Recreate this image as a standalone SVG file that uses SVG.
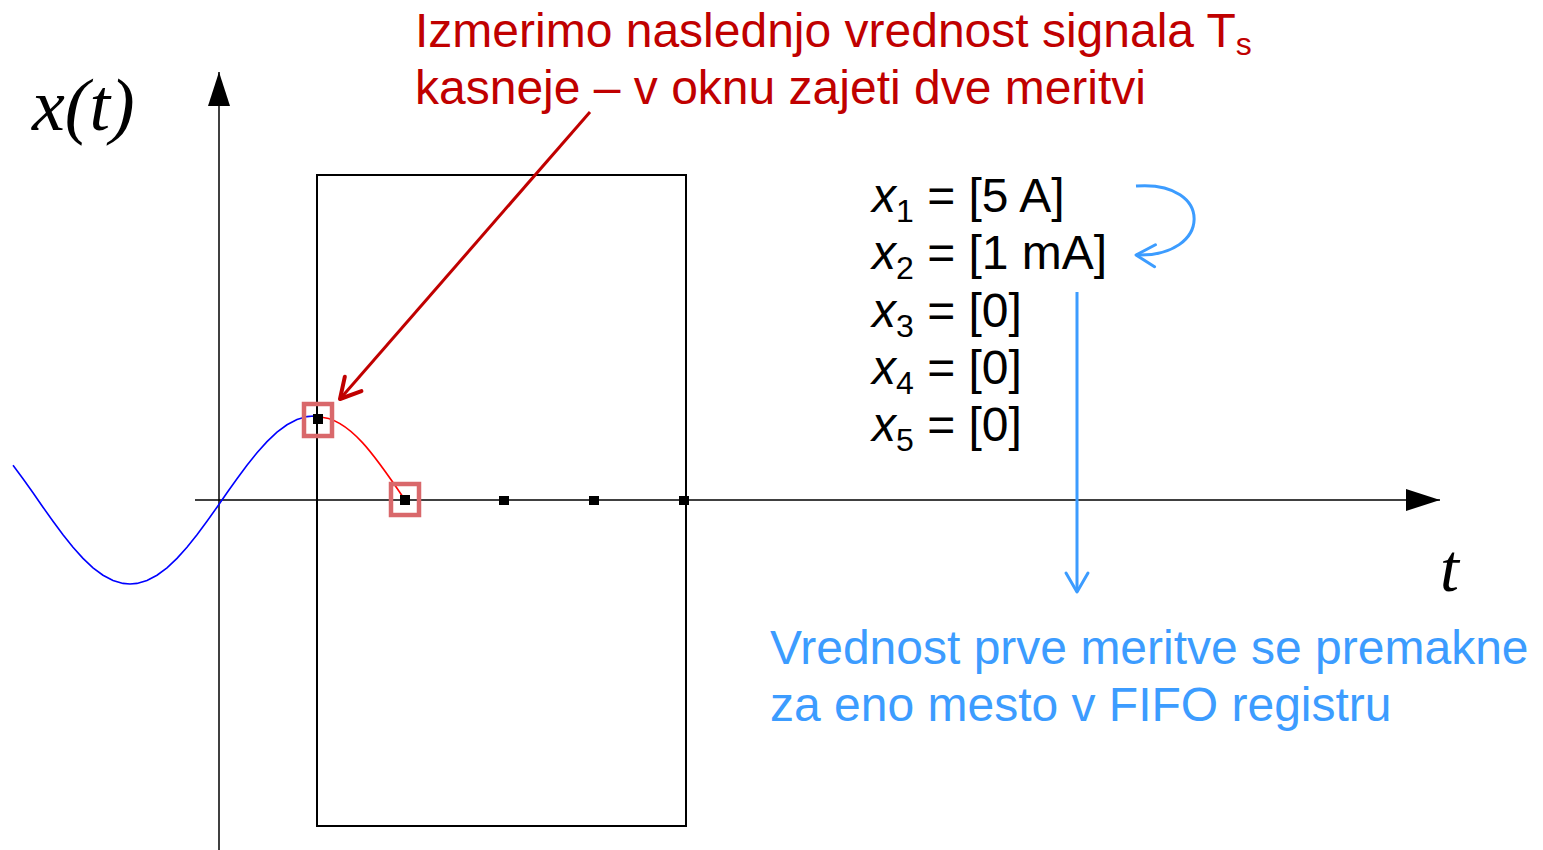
<svg xmlns="http://www.w3.org/2000/svg" width="1543" height="850" viewBox="0 0 1543 850">
<style>
.red{fill:#c00000;font-family:"Liberation Sans",Arial,sans-serif;font-size:48px}
.blue{fill:#3c9cff;font-family:"Liberation Sans",Arial,sans-serif;font-size:48px}
.eq{fill:#000;font-family:"Liberation Sans",Arial,sans-serif;font-size:48px}
.sub{font-size:32px}
.math{fill:#000;font-family:"Liberation Serif","Times New Roman",serif;font-style:italic}
.sq{fill:#000}
.hl{fill:none;stroke:#d9686b;stroke-width:4.5}
</style>
<defs>
<marker id="solid" markerWidth="34" markerHeight="22" refX="34" refY="11" orient="auto" markerUnits="userSpaceOnUse">
<path d="M0,0 L34,11 L0,22 Z" fill="#000"/>
</marker>
<marker id="redopen" markerWidth="30" markerHeight="30" refX="26" refY="15" orient="auto" markerUnits="userSpaceOnUse">
<path d="M6,4 L26,15 L6,26" fill="none" stroke="#c00000" stroke-width="4" stroke-linecap="round" stroke-linejoin="round"/>
</marker>
<marker id="blueopen" markerWidth="30" markerHeight="30" refX="26" refY="15" orient="auto" markerUnits="userSpaceOnUse">
<path d="M7,4 L26,15 L7,26" fill="none" stroke="#3c9cff" stroke-width="3" stroke-linecap="round" stroke-linejoin="round"/>
</marker>
</defs>
<g id="axes">
<line x1="219" y1="850" x2="219" y2="72" stroke="#000" stroke-width="1.5" marker-end="url(#solid)"/>
<line x1="195" y1="500" x2="1440" y2="500" stroke="#000" stroke-width="1.5" marker-end="url(#solid)"/>
<text class="math" x="32" y="130" font-size="74">x(t)</text>
<text class="math" x="1440" y="591" font-size="68">t</text>
</g>
<g id="window">
<rect x="317" y="175" width="369" height="651" fill="none" stroke="#000" stroke-width="2"/>
</g>
<g id="signal">
<polyline fill="none" stroke="#0000ff" stroke-width="1.6" points="13,465.2 23,478.7 33,492.8 43,507.2 53,521.3 63,534.8 73,547.3 83,558.4 93,567.8 103,575.2 113,580.5 123,583.4 130,584 137,583.4 147,580.5 157,575.2 167,567.8 177,558.4 187,547.3 197,534.8 207,521.3 217,507.2 227,492.8 237,478.7 247,465.2 257,452.7 267,441.6 277,432.2 287,424.8 297,419.5 307,416.6 314,416 318,417"/>
<path d="M318,417 C349,417 376,457 405,500" fill="none" stroke="#ff0000" stroke-width="1.6"/>
</g>
<g id="samples">
<rect class="sq" x="313" y="414" width="10" height="10"/>
<rect class="sq" x="400" y="495" width="10" height="10"/>
<rect class="sq" x="499" y="496" width="10" height="9"/>
<rect class="sq" x="589" y="496" width="10" height="9"/>
<rect class="sq" x="679" y="496" width="10" height="9"/>
<rect class="hl" x="304" y="404" width="28" height="32"/>
<rect class="hl" x="391" y="484" width="28" height="31"/>
</g>
<g id="red-note">
<text class="red" x="415" y="47">Izmerimo naslednjo vrednost signala T<tspan class="sub" dy="8">s</tspan></text>
<text class="red" x="415" y="104">kasneje – v oknu zajeti dve meritvi</text>
</g>
<g id="fifo">
<text class="eq" x="872" y="212"><tspan font-style="italic">x</tspan><tspan class="sub" dy="10">1</tspan><tspan dy="-10"> = [5 A]</tspan></text>
<text class="eq" x="872" y="269"><tspan font-style="italic">x</tspan><tspan class="sub" dy="10">2</tspan><tspan dy="-10"> = [1 mA]</tspan></text>
<text class="eq" x="872" y="327"><tspan font-style="italic">x</tspan><tspan class="sub" dy="10">3</tspan><tspan dy="-10"> = [0]</tspan></text>
<text class="eq" x="872" y="384"><tspan font-style="italic">x</tspan><tspan class="sub" dy="10">4</tspan><tspan dy="-10"> = [0]</tspan></text>
<text class="eq" x="872" y="441"><tspan font-style="italic">x</tspan><tspan class="sub" dy="10">5</tspan><tspan dy="-10"> = [0]</tspan></text>
</g>
<g id="blue-note">
<text class="blue" x="770" y="664">Vrednost prve meritve se premakne</text>
<text class="blue" x="770" y="721">za eno mesto v FIFO registru</text>
</g>
<g id="connectors">
<line x1="590" y1="112" x2="340" y2="399" stroke="#c00000" stroke-width="3" marker-end="url(#redopen)"/>
<path d="M1136,186 C1215,180 1212,258 1136,255" fill="none" stroke="#3c9cff" stroke-width="3" marker-end="url(#blueopen)"/>
<line x1="1077" y1="292" x2="1077" y2="592" stroke="#3c9cff" stroke-width="3" marker-end="url(#blueopen)"/>
</g>
</svg>
